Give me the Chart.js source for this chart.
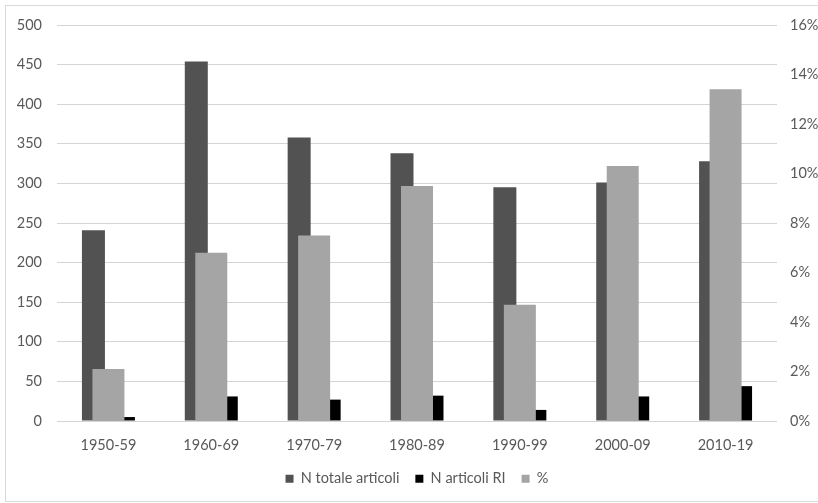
<!DOCTYPE html>
<html>
<head>
<meta charset="utf-8">
<script src="https://cdn.jsdelivr.net/npm/chart.js@4.4.1/dist/chart.umd.min.js"></script>
<style>
  html, body { margin: 0; padding: 0; background: #fff; }
  #wrap { position: relative; width: 818px; height: 503px; }
</style>
</head>
<body>
<div id="wrap"><canvas id="c" width="818" height="503"></canvas></div>
<script>
// Decenni
const categories = ['1950-59', '1960-69', '1970-79', '1980-89', '1990-99', '2000-09', '2010-19'];
// Numero totale di articoli per decennio
const totaleArticoli = [241, 454, 358, 338, 295, 301, 328];
// Numero di articoli RI per decennio
const articoliRI = [5, 31, 27, 32, 14, 31, 44];
// Quota percentuale di articoli RI
const percentuale = [2.1, 6.8, 7.5, 9.5, 4.7, 10.3, 13.4];
// Etichette degli assi
const leftTicks = [0, 50, 100, 150, 200, 250, 300, 350, 400, 450, 500];
const rightTicks = [0, 2, 4, 6, 8, 10, 12, 14, 16];

const FONT = 'Lato, "Open Sans", sans-serif';
const SIZE = 14.5;
const TEXT = '#595959';

const framePlugin = {
  id: 'frame',
  beforeDraw(chart) {
    const ctx = chart.ctx;
    ctx.save();
    ctx.fillStyle = '#ffffff';
    ctx.fillRect(0, 0, chart.width, chart.height);
    ctx.strokeStyle = '#d9d9d9';
    ctx.lineWidth = 1;
    ctx.strokeRect(5.5, 5.5, 840, 496);
    ctx.restore();
  }
};

new Chart(document.getElementById('c'), {
  type: 'bar',
  data: {
    labels: categories,
    datasets: [
      {
        label: 'N totale articoli',
        data: totaleArticoli,
        backgroundColor: '#525252',
        yAxisID: 'y',
        order: 2,
        categoryPercentage: 0.583,
        barPercentage: 0.767
      },
      {
        label: 'N articoli RI',
        data: articoliRI,
        backgroundColor: '#000000',
        yAxisID: 'y',
        order: 2,
        categoryPercentage: 0.583,
        barPercentage: 0.767
      },
      {
        // secondary series: centred on the category, drawn over the others
        label: '%',
        data: percentuale,
        backgroundColor: '#a5a5a5',
        yAxisID: 'y2',
        order: 1,
        grouped: false,
        categoryPercentage: 1,
        barPercentage: 0.311
      }
    ]
  },
  options: {
    responsive: false,
    animation: false,
    devicePixelRatio: 1,
    layout: { padding: { top: 25, left: 0, right: 0, bottom: 7 } },
    plugins: {
      tooltip: { enabled: false },
      legend: {
        position: 'bottom',
        fullSize: false,
        labels: {
          boxWidth: 8,
          boxHeight: 8,
          padding: 16,
          color: TEXT,
          font: { family: FONT, size: SIZE },
          sort: (a, b) => a.datasetIndex - b.datasetIndex
        }
      }
    },
    scales: {
      x: {
        type: 'category',
        offset: true,
        grid: { display: false, drawTicks: false },
        border: { display: false },
        ticks: { color: TEXT, font: { family: FONT, size: SIZE }, padding: 16, maxRotation: 0 },
        afterFit(scale) { scale.height = 34.5; }
      },
      y: {
        position: 'left',
        min: leftTicks[0],
        max: leftTicks[leftTicks.length - 1],
        afterBuildTicks(scale) { scale.ticks = leftTicks.map(v => ({ value: v })); },
        grid: { color: '#d4d4d4', lineWidth: 1, drawTicks: false },
        border: { display: false },
        ticks: { color: TEXT, font: { family: FONT, size: SIZE }, padding: 15 },
        afterFit(scale) { scale.width = 57; }
      },
      y2: {
        position: 'right',
        min: rightTicks[0],
        max: rightTicks[rightTicks.length - 1],
        afterBuildTicks(scale) { scale.ticks = rightTicks.map(v => ({ value: v })); },
        grid: { display: false, drawTicks: false },
        border: { display: false },
        ticks: {
          color: TEXT,
          font: { family: FONT, size: SIZE },
          padding: 13,
          callback: v => v + '%'
        },
        afterFit(scale) { scale.width = 41; }
      }
    }
  },
  plugins: [framePlugin]
});
</script>
</body>
</html>
